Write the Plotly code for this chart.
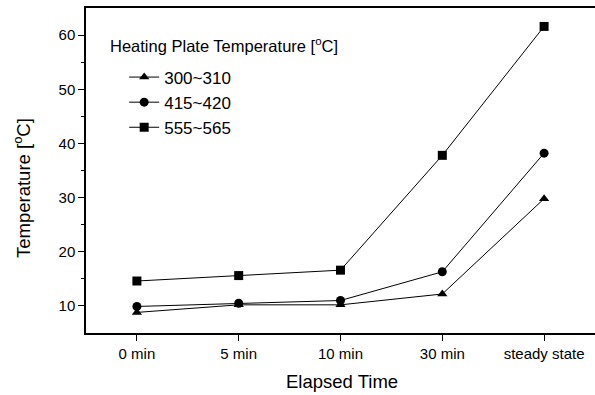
import plotly.graph_objects as go

categories = ["0 min", "5 min", "10 min", "30 min", "steady state"]
series_names = ["300~310", "415~420", "555~565"]
s300 = [8.8, 10.2, 10.2, 12.2, 29.8]
s415 = [9.9, 10.5, 11.0, 16.3, 38.2]
s555 = [14.6, 15.6, 16.6, 37.8, 61.6]
symbols = ["triangle-up", "circle", "square"]

font_family = "Liberation Sans, Arial, sans-serif"
fig = go.Figure()
for name, vals, sym in zip(series_names, [s300, s415, s555], symbols):
    fig.add_trace(go.Scatter(
        x=list(range(len(categories))), y=vals, name=name,
        mode="lines+markers",
        line=dict(color="black", width=1),
        marker=dict(symbol=sym, size=9, color="black"),
    ))

fig.update_layout(
    width=595, height=395,
    margin=dict(l=86, r=0, t=8, b=62, autoexpand=False),
    paper_bgcolor="white", plot_bgcolor="white",
    font=dict(family=font_family, color="black", size=15),
    showlegend=True,
    legend=dict(
        x=0.075, y=0.8415, xanchor="left", yanchor="top",
        bgcolor="rgba(0,0,0,0)",
        font=dict(size=17),
        tracegroupgap=0, itemwidth=30,
    ),
    xaxis=dict(
        range=[-0.5, 4.5], automargin=False,
        tickmode="array", tickvals=list(range(len(categories))), ticktext=categories,
        showline=True, linecolor="black", linewidth=1.5, mirror=True,
        ticks="outside", ticklen=6, tickcolor="black",
        showgrid=False, zeroline=False,
        tickfont=dict(size=15),
    ),
    yaxis=dict(
        range=[5, 65], automargin=False,
        tickvals=[10, 20, 30, 40, 50, 60],
        showline=True, linecolor="black", linewidth=1.5,
        ticks="outside", ticklen=6, tickcolor="black",
        minor=dict(tickvals=[15, 25, 35, 45, 55], ticks="outside", ticklen=3, tickcolor="black"),
        showgrid=False, zeroline=False,
        tickfont=dict(size=15),
    ),
    annotations=[
        dict(text="Heating Plate Temperature [<sup>o</sup>C]", xref="paper", yref="paper",
             x=(108 - 86) / 509, y=(333 - 45) / 325, xanchor="left", yanchor="middle",
             showarrow=False, font=dict(size=16.5)),
        dict(text="Elapsed Time", xref="paper", yref="paper",
             x=(342 - 86) / 509, y=(333 - 381) / 325, xanchor="center", yanchor="middle",
             showarrow=False, font=dict(size=18.5)),
        dict(text="Temperature [<sup>o</sup>C]", xref="paper", yref="paper",
             x=(22 - 86) / 509, y=(333 - 188) / 325, xanchor="center", yanchor="middle",
             textangle=-90, showarrow=False, font=dict(size=18.5)),
    ],
)
fig.write_html(
    "out.html",
    config={"displayModeBar": False},
    post_script="document.body.style.margin='0';document.body.style.overflow='hidden';",
)
